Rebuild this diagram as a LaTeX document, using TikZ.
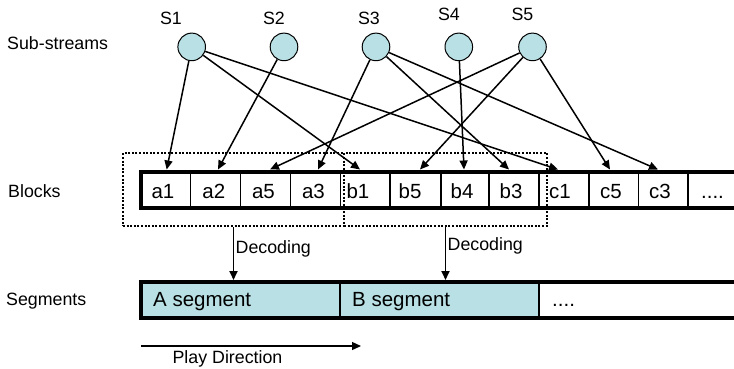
\documentclass[tikz,border=0pt]{standalone}
\usepackage{fontspec}
\setmainfont{Liberation Sans}
\usetikzlibrary{arrows.meta}
\definecolor{teal1}{RGB}{185,224,228}
\begin{document}
\begin{tikzpicture}[x=1pt,y=-1pt,
  lbl/.style={font=\fontsize{17.8}{21}\selectfont, inner sep=0pt},
  big/.style={font=\fontsize{20.5}{24}\selectfont, inner sep=0pt},
  stream/.style={circle, draw, fill=teal1, minimum size=27.6pt, inner sep=0pt, line width=1pt},
  arr/.style={-{Triangle[length=9pt,width=8pt]}, line width=1.5pt},
  thickb/.style={line width=4pt, line join=miter},
  cellline/.style={line width=1.4pt},
  dotbox/.style={draw, line width=2pt, dash pattern=on 2pt off 1.6pt, inner sep=0pt, fill=none},
]
\useasboundingbox (0,0) rectangle (734,368);
% row labels
\node[lbl,anchor=base west] (lsub) at (7,49) {Sub-streams};
\node[lbl,anchor=base west] (lblk) at (8,197.5) {Blocks};
\node[lbl,anchor=base west] (lseg) at (6,305.5) {Segments};
% sub-stream circles and labels
\node[stream] (st1) at (191.7,46.9) {};
\node[stream] (st2) at (284,46.9) {};
\node[stream] (st3) at (376,46.9) {};
\node[stream] (st4) at (458.8,46.9) {};
\node[stream] (st5) at (532.5,46.9) {};
\node[lbl,anchor=base] (ls1) at (171,24.3) {S1};
\node[lbl,anchor=base] (ls2) at (274,24.3) {S2};
\node[lbl,anchor=base] (ls3) at (369,24.3) {S3};
\node[lbl,anchor=base] (ls4) at (449,20.5) {S4};
\node[lbl,anchor=base] (ls5) at (522.5,20.5) {S5};
% blocks row
\foreach \x in {190.7,240.7,290.7,340.5,390,441,489,539,589,638.5,688}
  \draw[cellline] (\x,171.5) -- (\x,208.3);
\draw[thickb] (734,171.5) -- (141.3,171.5) -- (141.3,208.3) -- (734,208.3);
\node[big,anchor=base] (a1) at (163,198.3) {a1};
\node[big,anchor=base] (a2) at (213.8,198.3) {a2};
\node[big,anchor=base] (a5) at (263.5,198.3) {a5};
\node[big,anchor=base] (a3) at (313.5,198.3) {a3};
\node[big,anchor=base] (b1) at (358,198.3) {b1};
\node[big,anchor=base] (b5) at (410,198.3) {b5};
\node[big,anchor=base] (b4) at (462,198.3) {b4};
\node[big,anchor=base] (b3) at (511,198.3) {b3};
\node[big,anchor=base] (c1) at (560,198.3) {c1};
\node[big,anchor=base] (c5) at (611,198.3) {c5};
\node[big,anchor=base] (c3) at (660,198.3) {c3};
\node[big,anchor=base] (cdots) at (712.5,198.3) {....};
% dotted decoding groups
\node[dotbox, minimum width=221pt, minimum height=72.7pt] (box1) at (233.5,189.65) {};
\node[dotbox, minimum width=203pt, minimum height=72.7pt] (box2) at (445.5,189.65) {};
% arrow tip coordinates on the block row
\coordinate (ta1) at (166.7,169.5);
\coordinate (ta2) at (218,169.5);
\coordinate (ta5) at (270,169.5);
\coordinate (ta3) at (318,169.5);
\coordinate (tb1) at (360,169.5);
\coordinate (tb5) at (420,169.5);
\coordinate (tb4) at (464,169.5);
\coordinate (tb3) at (509,169.5);
\coordinate (tc1) at (558,169.5);
\coordinate (tc5) at (610,169.5);
\coordinate (tc3) at (658,169.5);
\draw[arr] (st1) -- (ta1);
\draw[arr] (st1) -- (tb1);
\draw[arr] (st1) -- (tc1);
\draw[arr] (st2) -- (ta2);
\draw[arr] (st3) -- (ta3);
\draw[arr] (st3) -- (tb3);
\draw[arr] (st3) -- (tc3);
\draw[arr] (st4) -- (tb4);
\draw[arr] (st5) -- (ta5);
\draw[arr] (st5) -- (tb5);
\draw[arr] (st5) -- (tc5);
% segments row
\fill[teal1] (141,282.3) rectangle (539,318.3);
\draw[cellline] (340,282.3) -- (340,318.3);
\draw[cellline] (539,282.3) -- (539,318.3);
\draw[thickb] (734,282.3) -- (141,282.3) -- (141,318.3) -- (734,318.3);
\node[big,anchor=base west] (sa) at (153,306) {A segment};
\node[big,anchor=base west] (sb) at (352,306) {B segment};
\node[big,anchor=base west] (sdots) at (552,306) {....};
% decoding arrows
\coordinate (segtop) at (0,280);
\draw[arr, line width=1.8pt] (box1.south) -- (box1.south |- segtop);
\draw[arr, line width=1.8pt] (box2.south) -- (box2.south |- segtop);
\node[lbl,anchor=base west] (dec1) at (235.5,253) {Decoding};
\node[lbl,anchor=base west] (dec2) at (447.5,250) {Decoding};
% play direction
\coordinate (pd1) at (141,346);
\coordinate (pd2) at (361,346);
\draw[arr, line width=1.3pt] (pd1) -- (pd2);
\node[lbl,anchor=base] (pdl) at (227.5,363) {Play Direction};
\end{tikzpicture}
\end{document}
